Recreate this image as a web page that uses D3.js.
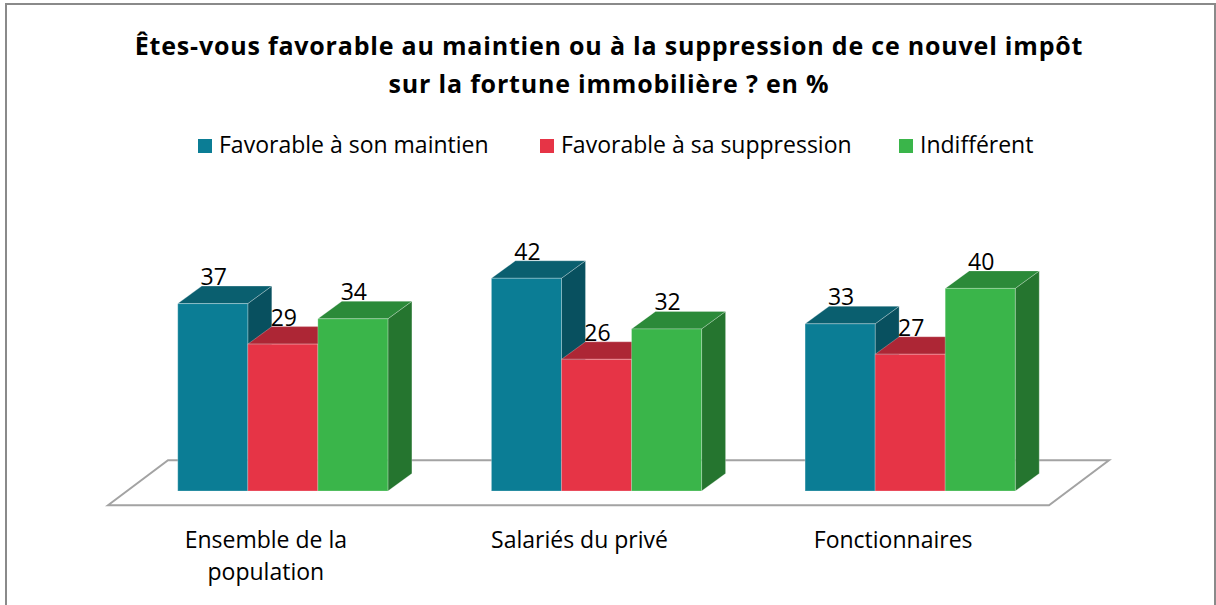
<!DOCTYPE html>
<html>
<head>
<meta charset="utf-8">
<script src="https://cdn.jsdelivr.net/npm/d3@7"></script>
<style>
  html, body { margin: 0; padding: 0; background: #fff; }
  svg { display: block; }
  text { font-family: "Open Sans", Lato, sans-serif; fill: #000; }
</style>
</head>
<body>
<svg id="chart" width="1216" height="605"></svg>
<script>
// ---- data ----
const categories = [["Ensemble de la", "population"], ["Salariés du privé"], ["Fonctionnaires"]];
const categoryKeys = ["Ensemble de la population", "Salariés du privé", "Fonctionnaires"];
const seriesNames = ["Favorable à son maintien", "Favorable à sa suppression", "Indifférent"];
const maintien = [37, 42, 33];
const suppression = [29, 26, 27];
const indifferent = [34, 32, 40];
const titleLines = ["Êtes-vous favorable au maintien ou à la suppression de ce nouvel impôt", "sur la fortune immobilière ? en %"];

// ---- styles ----
const colors = {
  front: ["#0b7d95", "#e63446", "#3ab54a"],
  top:   ["#0a5f6f", "#ad2635", "#2b8a39"],
  side:  ["#08505f", "#97202d", "#25752f"]
};
const DX = 24, DY = 17.5;
const FS = "23px";

const svg = d3.select("#chart");

// frame
svg.append("rect").attr("x", 6).attr("y", 4).attr("width", 1209).attr("height", 640)
  .attr("fill", "#fff").attr("stroke", "#8a8a8a").attr("stroke-width", 2);

// title
const title = svg.append("text").attr("text-anchor", "middle")
  .style("font-weight", "bold").style("font-size", "25px").style("letter-spacing", "0.8px");
titleLines.forEach((t, i) => {
  title.append("tspan").attr("x", 609).attr("y", 55 + i * 38).text(t);
});

// scales
const x0 = d3.scaleBand().domain(categoryKeys).range([126, 1067])
  .paddingInner(0.33).paddingOuter(0.165);
const x1 = d3.scaleBand().domain(seriesNames).range([0, x0.bandwidth()]);
const y = d3.scaleLinear().domain([0, 45]).range([491, 491 - 45 * 5.065]);

// floor
const [r0, r1] = x0.range();
const floorMid = y(0) - DY / 2 + 0.5;
const fdx = 30, fdy = 22.5;
const floorPts = [
  [r0 + DX / 2 - fdx, floorMid + fdy],
  [r0 + DX / 2 + fdx, floorMid - fdy],
  [r1 + DX / 2 + fdx, floorMid - fdy],
  [r1 + DX / 2 - fdx, floorMid + fdy]
];
svg.append("path").attr("d", d3.line()(floorPts) + "Z")
  .attr("fill", "#fff").attr("stroke", "#a3a3a3").attr("stroke-width", 2);

// bars
const seriesVals = [maintien, suppression, indifferent];
const bars = [];
categoryKeys.forEach((c, ci) => {
  seriesNames.forEach((s, si) => {
    bars.push({ c, ci, s, si, v: seriesVals[si][ci] });
  });
});

const g = svg.append("g");
bars.forEach(d => {
  const xl = x0(d.c) + x1(d.s), xr = xl + x1.bandwidth();
  const yt = y(d.v), yb = y(0);
  const bg = g.append("g");
  bg.append("path").attr("d", d3.line()([[xr, yb], [xr, yt], [xr + DX, yt - DY], [xr + DX, yb - DY]]) + "Z")
    .attr("fill", colors.side[d.si]).attr("stroke", "rgba(255,255,255,0.25)").attr("stroke-width", 1);
  bg.append("path").attr("d", d3.line()([[xl, yt], [xr, yt], [xr + DX, yt - DY], [xl + DX, yt - DY]]) + "Z")
    .attr("fill", colors.top[d.si]).attr("stroke", "rgba(255,255,255,0.25)").attr("stroke-width", 1);
  bg.append("rect").attr("x", xl).attr("y", yt).attr("width", xr - xl).attr("height", yb - yt)
    .attr("fill", colors.front[d.si]).attr("stroke", "rgba(255,255,255,0.25)").attr("stroke-width", 1);
});

// value labels
g.selectAll("text.val").data(bars).join("text").attr("class", "val")
  .attr("text-anchor", "middle")
  .attr("x", d => x0(d.c) + x1(d.s) + x1.bandwidth() / 2 + 1)
  .attr("y", d => y(d.v) - DY - 1)
  .style("font-size", FS)
  .text(d => d.v);

// category labels
categoryKeys.forEach((c, ci) => {
  const t = svg.append("text").attr("text-anchor", "middle").style("font-size", FS);
  categories[ci].forEach((line, li) => {
    t.append("tspan").attr("x", x0(c) + x0.bandwidth() / 2 - 17).attr("y", 548 + li * 32).text(line);
  });
});

// legend
const legendX = [198, 540, 899];
const lg = svg.append("g");
seriesNames.forEach((s, i) => {
  lg.append("rect").attr("x", legendX[i]).attr("y", 139).attr("width", 14).attr("height", 14)
    .attr("fill", colors.front[i]);
  lg.append("text").attr("x", legendX[i] + 21).attr("y", 153).style("font-size", FS).text(s);
});
</script>
</body>
</html>
